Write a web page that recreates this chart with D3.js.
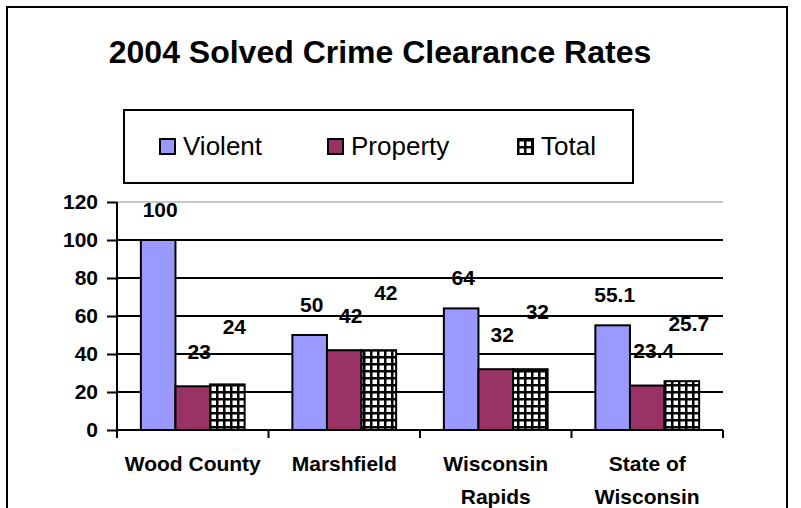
<!DOCTYPE html>
<html><head><meta charset="utf-8">
<script src="https://cdn.jsdelivr.net/npm/d3@7"></script>
<style>body{margin:0;background:#fff}svg{display:block}text{font-family:"Liberation Sans",Arial,sans-serif}</style>
</head><body>
<script>
const categories = [["Wood County"], ["Marshfield"], ["Wisconsin", "Rapids"], ["State of", "Wisconsin"]];
const seriesNames = ["Violent", "Property", "Total"];
const violent = [100, 50, 64, 55.1];
const property = [23, 42, 32, 23.4];
const total = [24, 42, 32, 25.7];
const valueLabels = [["100","50","64","55.1"],["23","42","32","23.4"],["24","42","32","25.7"]];
const yTicks = [0, 20, 40, 60, 80, 100, 120];

const W = 801, H = 508;
const svg = d3.select("body").append("svg").attr("width", W).attr("height", H);
const defs = svg.append("defs");
const pat = defs.append("pattern").attr("id","grid").attr("patternUnits","userSpaceOnUse")
  .attr("width",7).attr("height",7).attr("x",0).attr("y",0);
pat.append("rect").attr("width",7).attr("height",7).attr("fill","#000");
pat.append("rect").attr("x",1.5).attr("y",1.5).attr("width",4.5).attr("height",4.5).attr("fill","#fff");

const colors = ["#9999FF", "#993366", "url(#grid)"];
const data = [violent, property, total];

// outer frame
svg.append("path").attr("d", `M7,${H} V7 H787 V${H}`).attr("fill","none").attr("stroke","#000").attr("stroke-width",2);

svg.append("text").attr("x", 380).attr("y", 63).attr("text-anchor","middle")
  .attr("font-weight","bold").attr("font-size",32).text("2004 Solved Crime Clearance Rates");

// legend
const lg = svg.append("g");
lg.append("rect").attr("x",124).attr("y",110).attr("width",509).attr("height",73).attr("fill","#fff").attr("stroke","#000").attr("stroke-width",2);
const legX = [160, 328, 518];
seriesNames.forEach((s,i)=>{
  lg.append("rect").attr("x",legX[i]).attr("y",139).attr("width",15).attr("height",15)
    .attr("fill",colors[i]).attr("stroke","#000").attr("stroke-width",2);
  lg.append("text").attr("x",legX[i]+23).attr("y",155).attr("font-size",26).text(s);
});

const x0 = d3.scaleBand().domain(d3.range(categories.length)).range([117, 723]).paddingInner(0).paddingOuter(0);
const x1 = d3.scaleBand().domain(d3.range(seriesNames.length)).range([0, x0.bandwidth()]).paddingInner(0).paddingOuter(0.69);
const y = d3.scaleLinear().domain([0,120]).range([430, 202]);

// gridlines
svg.append("g").selectAll("line").data(yTicks.filter(d=>d>0)).join("line")
  .attr("x1",117).attr("x2",723).attr("y1",d=>y(d)).attr("y2",d=>y(d))
  .attr("stroke",d=>d===120?"#c8c8c8":"#000").attr("stroke-width",2);

// bars
const g = svg.append("g");
data.forEach((arr, si)=>{
  g.selectAll(".b"+si).data(arr).join("rect")
    .attr("x",(d,i)=>x0(i)+x1(si)).attr("width",x1.bandwidth())
    .attr("y",d=>y(d)).attr("height",d=>y(0)-y(d))
    .attr("fill",colors[si]).attr("stroke","#000").attr("stroke-width",2);
});

// axes
const yAxis = d3.axisLeft(y).tickValues(yTicks).tickSize(10).tickPadding(9);
const ya = svg.append("g").attr("transform","translate(117,0)").call(yAxis);
ya.select(".domain").attr("stroke-width",2).attr("d","M0,430V202");
ya.selectAll(".tick line").attr("stroke-width",2);
ya.selectAll("text").attr("font-size",21).attr("font-weight","bold").attr("fill","#000")
  .attr("font-family","Liberation Sans, Arial, sans-serif");

svg.append("line").attr("x1",117).attr("x2",723).attr("y1",430).attr("y2",430).attr("stroke","#000").attr("stroke-width",2);
svg.append("g").selectAll("line").data(d3.range(categories.length+1)).join("line")
  .attr("x1",i=>117+i*x0.step()).attr("x2",i=>117+i*x0.step()).attr("y1",430).attr("y2",438)
  .attr("stroke","#000").attr("stroke-width",2);

// category labels
categories.forEach((lines,i)=>{
  const cx = x0(i)+x0.bandwidth()/2;
  const t = svg.append("text").attr("x",cx).attr("y",471).attr("text-anchor","middle")
    .attr("font-weight","bold").attr("font-size",21);
  lines.forEach((l,k)=>t.append("tspan").attr("x",cx).attr("dy",k?33:0).text(l));
});

// value labels
const labDy = [31, 35, 58];
const labDx = [2, 6.5, 7];
data.forEach((arr, si)=>{
  svg.append("g").selectAll("text").data(arr).join("text")
    .attr("x",(d,i)=>x0(i)+x1(si)+x1.bandwidth()/2+labDx[si])
    .attr("y",d=>y(d)-labDy[si]+7.5).attr("text-anchor","middle")
    .attr("font-weight","bold").attr("font-size",21)
    .text((d,i)=>valueLabels[si][i]);
});
</script>
</body></html>
